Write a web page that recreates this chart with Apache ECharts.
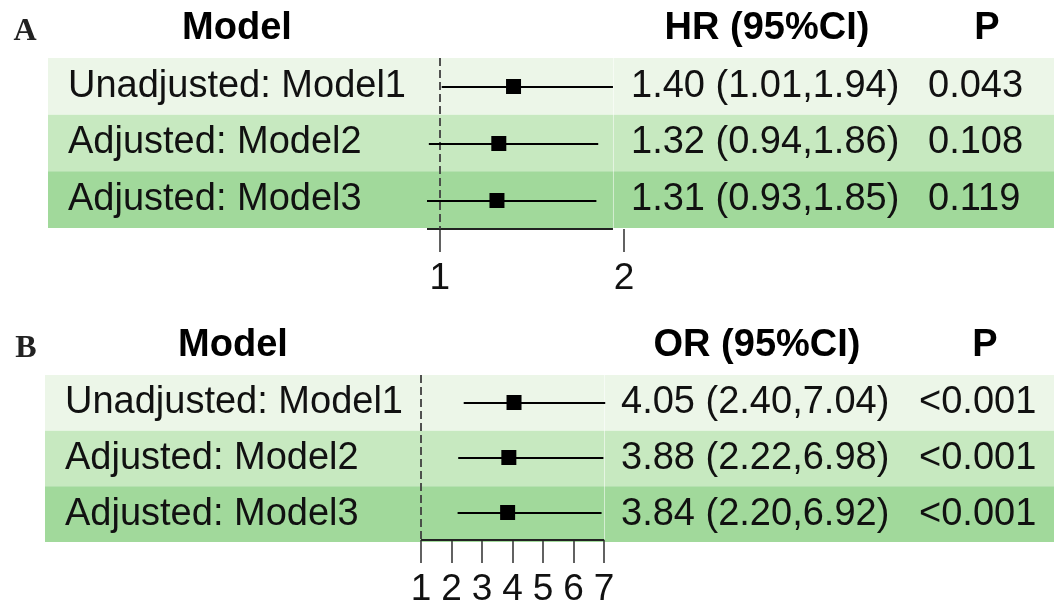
<!DOCTYPE html>
<html>
<head>
<meta charset="utf-8">
<script src="https://cdn.jsdelivr.net/npm/echarts@6/dist/echarts.min.js"></script>
<style>
  html, body { margin: 0; padding: 0; background: #ffffff; }
  #chart { width: 1054px; height: 608px; }
</style>
</head>
<body>
<div id="chart"></div>
<script>
// Model rows shared by both panels
const models = ['Unadjusted: Model1', 'Adjusted: Model2', 'Adjusted: Model3'];

// Panel A: hazard ratios
const hrEst = [1.40, 1.32, 1.31];
const hrLow = [1.01, 0.94, 0.93];
const hrHigh = [1.94, 1.86, 1.85];
const hrP = ['0.043', '0.108', '0.119'];
const hrTicks = [1, 2];

// Panel B: odds ratios
const orEst = [4.05, 3.88, 3.84];
const orLow = [2.40, 2.22, 2.20];
const orHigh = [7.04, 6.98, 6.92];
const orP = ['<0.001', '<0.001', '<0.001'];
const orTicks = [1, 2, 3, 4, 5, 6, 7];

const rowColors = ['#ecf6e8', '#c7e9c0', '#a1d99b'];
const FONT = '"Liberation Sans", Arial, Helvetica, sans-serif';
const SERIF = '"Liberation Serif", "Times New Roman", serif';
const INK = '#111111';

const panels = [
  {
    tag: 'A', effect: 'HR (95%CI)',
    est: hrEst, low: hrLow, high: hrHigh, p: hrP, ticks: hrTicks,
    xMin: 0.93, xMax: 2,
    xlim: [Math.min(...hrLow), Math.max(...hrHigh)],
    table: { left: 48, top: 58, height: 170 },
    plot: { left: 427, width: 197, top: 58, height: 171 },
    cols: { model: 68, est: 631, p: 928 },
    heads: { tagX: 25, tagY: 32, y: 29, model: 237, est: 767, p: 987 }
  },
  {
    tag: 'B', effect: 'OR (95%CI)',
    est: orEst, low: orLow, high: orHigh, p: orP, ticks: orTicks,
    xMin: 1, xMax: 7,
    xlim: [orTicks[0], orTicks[orTicks.length - 1]],
    table: { left: 45, top: 375, height: 167 },
    plot: { left: 421, width: 183, top: 375, height: 168 },
    cols: { model: 65, est: 621, p: 919 },
    heads: { tagX: 26, tagY: 349, y: 346, model: 233, est: 757, p: 985 }
  }
];

const fmt = v => v.toFixed(2);

const grid = [], xAxis = [], yAxis = [], series = [], graphic = [];

panels.forEach((pn) => {
  const tIdx = grid.length;
  grid.push({ left: pn.table.left, right: 0, top: pn.table.top, height: pn.table.height });
  const pIdx = grid.length;
  grid.push({ left: pn.plot.left, width: pn.plot.width, top: pn.plot.top, height: pn.plot.height });

  // table grid axes (hidden)
  xAxis.push({ gridIndex: tIdx, type: 'value', min: 0, max: 1, show: false });
  yAxis.push({ gridIndex: tIdx, type: 'category', data: models, inverse: true, show: false });

  // forest plot axes
  xAxis.push({
    gridIndex: pIdx, type: 'value', min: pn.xMin, max: pn.xMax,
    axisLine: { show: false },
    axisTick: { show: true, inside: false, length: 23, customValues: pn.ticks,
      lineStyle: { color: '#3a3a3a', width: 1.6 } },
    axisLabel: { show: true, customValues: pn.ticks, fontSize: 37, fontFamily: FONT,
      color: INK, margin: 31 },
    splitLine: { show: false }
  });
  yAxis.push({ gridIndex: pIdx, type: 'category', data: models, inverse: true, show: false });

  const estText = pn.est.map((e, i) => `${fmt(e)} (${fmt(pn.low[i])},${fmt(pn.high[i])})`);

  // row bands and table text
  series.push({
    type: 'custom', xAxisIndex: tIdx, yAxisIndex: tIdx, z: 0, silent: true,
    data: models.map((m, i) => [0, i]),
    encode: { x: 0, y: 1 },
    renderItem(params, api) {
      const i = api.value(1);
      const cs = params.coordSys;
      const yc = api.coord([0, i])[1];
      const h = api.size([0, 1])[1];
      const txt = (s, x) => ({
        type: 'text',
        style: { text: s, x: x, y: yc, fill: INK, font: `38px ${FONT}`,
          align: 'left', verticalAlign: 'middle' }
      });
      return {
        type: 'group',
        children: [
          { type: 'rect', shape: { x: cs.x, y: yc - h / 2, width: cs.width, height: h },
            style: { fill: rowColors[i] } },
          txt(models[i], pn.cols.model),
          txt(estText[i], pn.cols.est),
          txt(pn.p[i], pn.cols.p)
        ]
      };
    }
  });

  // axis line across the plotted range, plus the column divider
  series.push({
    type: 'custom', xAxisIndex: pIdx, yAxisIndex: pIdx, z: 1, silent: true,
    data: [[pn.xlim[0], pn.xlim[1], 0]],
    encode: { x: [0, 1], y: 2 },
    renderItem(params, api) {
      const cs = params.coordSys;
      const x0 = api.coord([api.value(0), 0])[0];
      const x1 = api.coord([api.value(1), 0])[0];
      const yb = Math.round(cs.y + cs.height);
      return {
        type: 'group',
        children: [
          { type: 'line', shape: { x1: x1 + 0.5, y1: cs.y, x2: x1 + 0.5, y2: yb - 1 },
            style: { stroke: 'rgba(255,255,255,0.55)', lineWidth: 1 } },
          { type: 'line', shape: { x1: x0, y1: yb, x2: x1, y2: yb },
            style: { stroke: '#222222', lineWidth: 2 } }
        ]
      };
    }
  });

  // confidence intervals
  series.push({
    type: 'custom', xAxisIndex: pIdx, yAxisIndex: pIdx, z: 3, silent: true,
    data: pn.est.map((e, i) => [pn.low[i], pn.high[i], i]),
    encode: { x: [0, 1], y: 2 },
    renderItem(params, api) {
      const a = api.coord([api.value(0), api.value(2)]);
      const b = api.coord([api.value(1), api.value(2)]);
      const y = Math.round(a[1]);
      return { type: 'line', shape: { x1: a[0], y1: y, x2: b[0], y2: y },
        style: { stroke: '#000000', lineWidth: 2.2 } };
    }
  });

  // point estimates and the null line
  series.push({
    type: 'scatter', xAxisIndex: pIdx, yAxisIndex: pIdx, z: 4, silent: true,
    symbol: 'rect', symbolSize: 15,
    itemStyle: { color: '#000000', opacity: 1 },
    data: pn.est.map((e, i) => [e, i]),
    markLine: {
      silent: true, symbol: 'none', z: 2,
      label: { show: false },
      lineStyle: { type: [8, 4], color: '#404040', width: 1.8 },
      data: [{ xAxis: 1 }]
    }
  });

  // panel tag and column headers
  graphic.push(
    { type: 'text', x: pn.heads.tagX, y: pn.heads.tagY,
      style: { text: pn.tag, font: `bold 32px ${SERIF}`, fill: '#222222',
        align: 'center', verticalAlign: 'middle' } },
    { type: 'text', x: pn.heads.model, y: pn.heads.y,
      style: { text: 'Model', font: `bold 38px ${FONT}`, fill: '#000000',
        align: 'center', verticalAlign: 'middle' } },
    { type: 'text', x: pn.heads.est, y: pn.heads.y,
      style: { text: pn.effect, font: `bold 38px ${FONT}`, fill: '#000000',
        align: 'center', verticalAlign: 'middle' } },
    { type: 'text', x: pn.heads.p, y: pn.heads.y,
      style: { text: 'P', font: `bold 38px ${FONT}`, fill: '#000000',
        align: 'center', verticalAlign: 'middle' } }
  );
});

const chart = echarts.init(document.getElementById('chart'), null, { renderer: 'canvas' });
chart.setOption({
  backgroundColor: '#ffffff',
  animation: false,
  grid, xAxis, yAxis, series, graphic
});
</script>
</body>
</html>
